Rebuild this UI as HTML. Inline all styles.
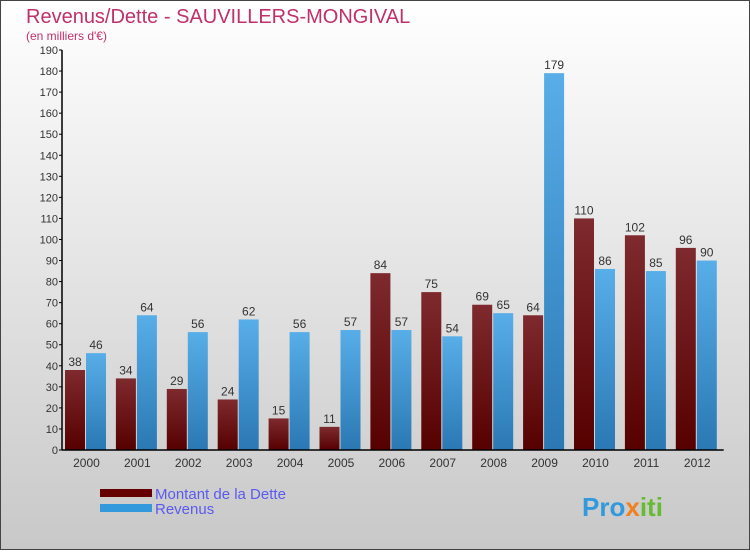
<!DOCTYPE html>
<html><head><meta charset="utf-8"><style>
body{margin:0}
svg text{font-family:"Liberation Sans",sans-serif}
</style></head><body>
<svg id="c" width="750" height="550" xmlns="http://www.w3.org/2000/svg">
<defs>
<linearGradient id="bg" x1="0" y1="0" x2="0" y2="1"><stop offset="0" stop-color="#ffffff"/><stop offset="1" stop-color="#c8c8c8"/></linearGradient>
<linearGradient id="gd" x1="0" y1="0" x2="0" y2="1"><stop offset="0" stop-color="#7e2a2e"/><stop offset="1" stop-color="#560000"/></linearGradient>
<linearGradient id="gr" x1="0" y1="0" x2="0" y2="1"><stop offset="0" stop-color="#58aee8"/><stop offset="1" stop-color="#2a78b4"/></linearGradient>
</defs>
<rect x="0.5" y="0.5" width="749" height="549" fill="url(#bg)" stroke="#444"/>
<text x="26" y="23" font-size="20" fill="#c0306a">Revenus/Dette - SAUVILLERS-MONGIVAL</text>
<text x="26" y="40" font-size="12" fill="#c0306a">(en milliers d'€)</text>
<g id="plot"></g>
<rect x="100" y="489" width="52" height="8" fill="#660000"/>
<text x="155" y="499" font-size="15" fill="#5a5af0">Montant de la Dette</text>
<rect x="100" y="504" width="52" height="8" fill="#3399dd"/>
<text x="155" y="514" font-size="15" fill="#5a5af0">Revenus</text>
<text x="582" y="516" font-size="26" font-weight="bold" fill="#3399dd">Pro<tspan fill="#f08020">x</tspan><tspan fill="#66bb33">iti</tspan></text>
</svg>
<script>
const years=["2000","2001","2002","2003","2004","2005","2006","2007","2008","2009","2010","2011","2012"];
const dette=[38,34,29,24,15,11,84,75,69,64,110,102,96];
const revenus=[46,64,56,62,56,57,57,54,65,179,86,85,90];
const yTicks=[0,10,20,30,40,50,60,70,80,90,100,110,120,130,140,150,160,170,180,190];
const NS="http://www.w3.org/2000/svg";
const g=document.getElementById('plot');
const x0=62,step=50.9,y0=450,k=400/190;
const y=v=>y0-v*k;
function mk(t,a){const e=document.createElementNS(NS,t);for(const n in a)e.setAttribute(n,a[n]);g.appendChild(e);return e;}
yTicks.forEach(v=>{
  const l=mk('line',{x1:x0-3,x2:x0,y1:y(v),y2:y(v),stroke:'#000'});
  
  
  const t=mk('text',{x:x0-4,y:y(v)+4,'font-size':11,'text-anchor':'end',fill:'#333'});
  t.textContent=v;
  
  
});
years.forEach((yr,i)=>{
  const gx=x0+i*step;
  const cx=gx+step/2;
  const d=mk('rect',{x:gx+3,y:y(dette[i]),width:20,height:dette[i]*k,fill:'url(#gd)'});
  
  
  const r=mk('rect',{x:gx+24,y:y(revenus[i]),width:20,height:revenus[i]*k,fill:'url(#gr)'});
  
  
  const dl=mk('text',{x:gx+13,y:y(dette[i])-4,'font-size':12,'text-anchor':'middle',fill:'#333'});
  dl.textContent=dette[i];
  
  
  const rl=mk('text',{x:gx+34,y:y(revenus[i])-4,'font-size':12,'text-anchor':'middle',fill:'#333'});
  rl.textContent=revenus[i];
  
  
  const xl=mk('text',{x:cx-1,y:467,'font-size':12,'text-anchor':'middle',fill:'#333'});
  xl.textContent=yr;
  
  
});
const ax=mk('line',{x1:x0,x2:x0,y1:y(190),y2:y0,stroke:'#000','stroke-width':1.5});


const bx=mk('line',{x1:x0,x2:x0+years.length*step,y1:y0,y2:y0,stroke:'#000','stroke-width':1.5});


</script>
</body></html>
